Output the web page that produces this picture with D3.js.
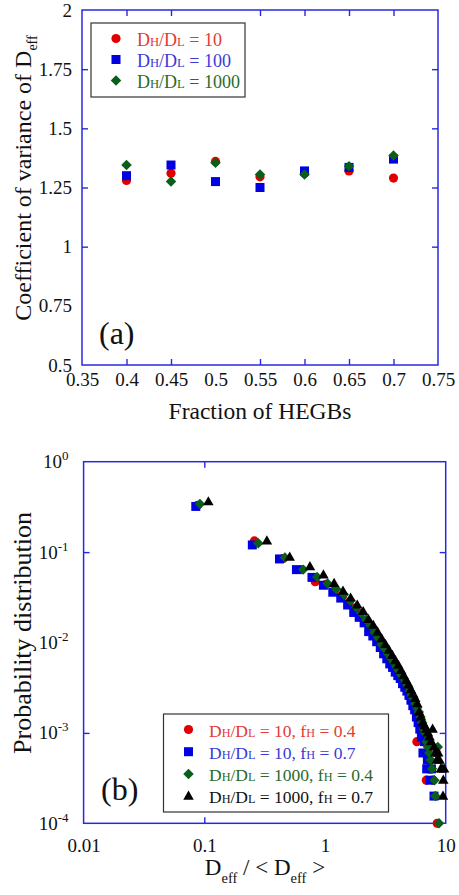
<!DOCTYPE html>
<html>
<head>
<meta charset="utf-8">
<script src="https://cdn.jsdelivr.net/npm/d3@7"></script>
<style>
  body { margin: 0; background: #fff; }
  svg, svg text, svg tspan { font-family: "Liberation Serif", serif !important; }
</style>
</head>
<body>
<script>
// ---- data: panel (a) ----
var fracHEGB = [0.4, 0.45, 0.5, 0.55, 0.6, 0.65, 0.7];
var cv10   = [1.28, 1.31, 1.36, 1.295, 1.31, 1.32, 1.29];
var cv100  = [1.30, 1.345, 1.275, 1.25, 1.32, 1.335, 1.37];
var cv1000 = [1.345, 1.275, 1.355, 1.305, 1.305, 1.34, 1.385];
var topXTicks = [0.35, 0.4, 0.45, 0.5, 0.55, 0.6, 0.65, 0.7, 0.75];
var topYTicks = [0.5, 0.75, 1, 1.25, 1.5, 1.75, 2];

// ---- data: panel (b), [Deff/<Deff>, probability] ----
var pd10_04 = [[0.088,0.33],[0.26,0.133],[0.45,0.085],[0.64,0.064],[0.83,0.047],[1.02,0.044],[1.21,0.038],[1.40,0.033],[1.59,0.028],[1.78,0.024],[1.97,0.021],[2.16,0.017],[2.35,0.0148],[2.54,0.0128],[2.73,0.0108],[2.92,0.0095],[3.11,0.0082],[3.30,0.0072],[3.49,0.0066],[3.68,0.0058],[3.87,0.0054],[4.06,0.0048],[4.25,0.0045],[4.44,0.0040],[4.63,0.0036],[4.82,0.0032],[5.01,0.0029],[5.20,0.0026],[5.39,0.0023],[5.58,0.0019],[5.77,0.0008],[5.96,0.0016],[6.15,0.0013],[6.34,0.0011],[6.53,0.0010],[6.72,0.0008],[6.91,0.0003],[7.10,0.0006],[7.29,0.0005],[7.48,0.0004],[7.86,0.0003],[8.40,0.0006],[8.50,0.0001]];
var pd10_07 = [[0.085,0.32],[0.25,0.12],[0.42,0.084],[0.58,0.064],[0.78,0.0525],[0.97,0.043],[1.16,0.036],[1.35,0.031],[1.54,0.026],[1.73,0.0215],[1.92,0.019],[2.11,0.0165],[2.30,0.0132],[2.49,0.0118],[2.68,0.0102],[2.87,0.0088],[3.06,0.0075],[3.25,0.0066],[3.44,0.0058],[3.63,0.0053],[3.82,0.0047],[4.01,0.0043],[4.20,0.0040],[4.39,0.0035],[4.58,0.0032],[4.77,0.0029],[4.96,0.0026],[5.15,0.0023],[5.34,0.0020],[5.53,0.0018],[5.72,0.0015],[5.91,0.0013],[6.10,0.0011],[6.29,0.0009],[6.48,0.0006],[6.67,0.0008],[6.96,0.0004],[7.05,0.0005],[7.40,0.0003],[7.62,0.0004],[8.00,0.0002]];
var pd1000_04 = [[0.092,0.34],[0.28,0.125],[0.465,0.087],[0.66,0.064],[0.86,0.053],[1.05,0.045],[1.24,0.039],[1.43,0.034],[1.62,0.029],[1.81,0.0245],[2.00,0.021],[2.19,0.018],[2.38,0.0155],[2.57,0.013],[2.76,0.0112],[2.95,0.0095],[3.14,0.0085],[3.33,0.0075],[3.52,0.0067],[3.71,0.0060],[3.90,0.0054],[4.09,0.0049],[4.28,0.0044],[4.47,0.0040],[4.66,0.0036],[4.85,0.0033],[5.04,0.0029],[5.23,0.0026],[5.42,0.0024],[5.61,0.0021],[5.80,0.0019],[5.99,0.0017],[6.18,0.0015],[6.37,0.0013],[6.56,0.0011],[6.75,0.0010],[6.94,0.0008],[7.13,0.0007],[7.32,0.0006],[7.51,0.0005],[7.70,0.0004],[8.60,0.0007],[8.08,0.0003],[8.20,0.0002],[8.80,0.0001]];
var pd1000_07 = [[0.108,0.36],[0.33,0.133],[0.51,0.088],[0.75,0.069],[0.97,0.056],[1.19,0.045],[1.41,0.037],[1.63,0.031],[1.85,0.026],[2.07,0.022],[2.29,0.018],[2.51,0.0155],[2.73,0.013],[2.95,0.011],[3.17,0.0095],[3.39,0.0082],[3.61,0.0072],[3.83,0.0063],[4.05,0.0056],[4.27,0.0049],[4.49,0.0043],[4.71,0.0038],[4.93,0.0034],[5.15,0.0030],[5.37,0.0027],[5.59,0.0024],[5.81,0.0021],[6.03,0.0017],[6.25,0.0015],[6.47,0.0013],[6.69,0.0012],[6.91,0.0011],[7.13,0.0010],[7.35,0.0009],[7.57,0.0008],[7.79,0.0011],[8.01,0.0007],[8.23,0.0006],[8.45,0.0005],[8.67,0.0006],[8.89,0.0005],[9.11,0.0004],[9.33,0.0004],[9.55,0.0003],[9.50,0.0002],[9.70,0.0004]];
var botXTicks = [0.01, 0.1, 1, 10];
var botYExps = [0, -1, -2, -3, -4];

var RED = "#e00000", BLUE = "#0000e0", GREEN = "#0a5e1a", BLACK = "#000";
var AXIS = "#2828e0";
var SERIF = "'Liberation Serif', serif";

var svg = d3.select("body").append("svg").attr("width", 459).attr("height", 895)
  .style("font-family", SERIF);

// marker drawing helper
function marker(g, shape, x, y, color) {
  var p;
  if (shape == "circle") p = g.append("circle").attr("cx", x).attr("cy", y).attr("r", 4.6);
  else if (shape == "square") p = g.append("path").attr("d", d3.symbol(d3.symbolSquare, 81)()).attr("transform", "translate(" + x + "," + y + ")");
  else if (shape == "diamond") p = g.append("path").attr("d", d3.symbol(d3.symbolSquare, 55)()).attr("transform", "translate(" + x + "," + y + ") rotate(45)");
  else p = g.append("path").attr("d", d3.symbol(d3.symbolTriangle, 48)()).attr("transform", "translate(" + x + "," + (y + 0.5) + ")");
  p.attr("fill", color);
}

// label with small-cap subscripts, parts = [[text, small?], ...]
function richText(g, x, y, parts, color, size) {
  var t = g.append("text").attr("x", x).attr("y", y).attr("fill", color).attr("font-size", size)
    .style("font-family", SERIF);
  parts.forEach(function(p) {
    t.append("tspan").attr("font-size", p[1] ? size * 0.7 : size).text(p[0]);
  });
  return t;
}

function frameAxes(g, x, y, xAxisFn, yAxisFn, pads) {
  var w = x.range()[1] - x.range()[0], h = y.range()[0] - y.range()[1];
  var bottom = g.append("g").attr("transform", "translate(0," + y.range()[0] + ")")
    .call(xAxisFn(d3.axisBottom(x)).tickSizeInner(-6).tickSizeOuter(0).tickPadding(pads[0]));
  var left = g.append("g").attr("transform", "translate(" + x.range()[0] + ",0)")
    .call(yAxisFn(d3.axisLeft(y)).tickSizeInner(-6).tickSizeOuter(0).tickPadding(pads[1]));
  g.append("g").attr("transform", "translate(0," + y.range()[1] + ")")
    .call(xAxisFn(d3.axisTop(x)).tickSizeInner(-6).tickSizeOuter(0).tickFormat(""));
  g.append("g").attr("transform", "translate(" + x.range()[1] + ",0)")
    .call(yAxisFn(d3.axisRight(y)).tickSizeInner(-6).tickSizeOuter(0).tickFormat(""));
  g.selectAll(".domain").remove();
  g.selectAll("g").attr("font-family", null).style("font-family", SERIF);
  g.selectAll(".tick line").attr("stroke", AXIS).attr("stroke-width", 1.4);
  g.selectAll(".tick text").attr("fill", "#111").attr("font-size", 19).style("font-family", SERIF);
  g.append("rect").attr("x", x.range()[0]).attr("y", y.range()[1]).attr("width", w).attr("height", h)
    .attr("fill", "none").attr("stroke", AXIS).attr("stroke-width", 1.5);
  return {bottom: bottom, left: left};
}

function label(g, size) {
  return g.append("text").attr("font-size", size).attr("fill", "#111").style("font-family", SERIF);
}

// ================= panel (a) =================
var xA = d3.scaleLinear().domain([0.35, 0.75]).range([82, 438]);
var yA = d3.scaleLinear().domain([0.5, 2]).range([365, 10]);
var gA = svg.append("g");
frameAxes(gA, xA, yA,
  function(a) { return a.tickValues(topXTicks).tickFormat(function(d) { return d; }); },
  function(a) { return a.tickValues(topYTicks).tickFormat(function(d) { return d; }); },
  [8, 10]);
// no ticks at the frame corners
gA.selectAll(".tick line").filter(function(d) { return d == 0.35 || d == 0.75 || d == 0.5 || d == 2; }).remove();

var topSeries = [[cv10, "circle", RED], [cv100, "square", BLUE], [cv1000, "diamond", GREEN]];
topSeries.forEach(function(s) {
  s[0].forEach(function(v, i) { marker(gA, s[1], xA(fracHEGB[i]), yA(v), s[2]); });
});

label(gA, 23.5).attr("x", 260).attr("y", 419).attr("text-anchor", "middle").text("Fraction of HEGBs");
var ytA = label(gA, 24).attr("transform", "translate(31,178) rotate(-90)").attr("text-anchor", "middle");
ytA.append("tspan").text("Coefficient of variance of D");
ytA.append("tspan").attr("font-size", 14).attr("dy", 6).text("eff");
label(gA, 32).attr("x", 99).attr("y", 344).text("(a)");

// legend (a)
var legA = gA.append("g");
legA.append("rect").attr("x", 91).attr("y", 23).attr("width", 154).attr("height", 74)
  .attr("fill", "#fff").attr("stroke", "#333").attr("stroke-width", 1.2);
var legAItems = [["10", "circle", RED, "#e53935"], ["100", "square", BLUE, "#3a3ad8"], ["1000", "diamond", GREEN, "#2a6a2a"]];
legAItems.forEach(function(it, i) {
  var y = 38.5 + i * 21;
  marker(legA, it[1], 116, y, it[2]);
  richText(legA, 137, y + 7, [["D", 0], ["H", 1], ["/D", 0], ["L", 1], [" = " + it[0], 0]], it[3], 18);
});

// ================= panel (b) =================
var xB = d3.scaleLog().domain([0.01, 10]).range([83.6, 445.7]);
var yB = d3.scaleLog().domain([1e-4, 1]).range([823.3, 461.7]);
var gB = svg.append("g");
var axB = frameAxes(gB, xB, yB,
  function(a) { return a.tickValues(botXTicks).tickFormat(function(d) { return d; }); },
  function(a) { return a.tickValues(botYExps.map(function(e) { return Math.pow(10, e); })).tickFormat(""); },
  [15, 15]);
gB.selectAll(".tick line").filter(function(d) { return d == 0.01 || d == 10 || d == 1e-4 || d == 1; }).remove();
axB.left.selectAll(".tick text").each(function(d) {
  var t = d3.select(this);
  t.text("10");
  t.append("tspan").attr("dy", -8).attr("font-size", 13).text(Math.round(Math.log10(d)));
});

var botSeries = [[pd10_04, "circle", RED], [pd10_07, "square", BLUE], [pd1000_04, "diamond", GREEN], [pd1000_07, "triangle", BLACK]];
botSeries.forEach(function(s) {
  s[0].forEach(function(p) { marker(gB, s[1], xB(p[0]), yB(p[1]), s[2]); });
});

var xtB = label(gB, 23).attr("x", 265).attr("y", 875).attr("text-anchor", "middle");
xtB.append("tspan").text("D");
xtB.append("tspan").attr("font-size", 14.5).attr("dy", 8).text("eff");
xtB.append("tspan").attr("dy", -8).text(" / < D");
xtB.append("tspan").attr("font-size", 14.5).attr("dy", 8).text("eff");
xtB.append("tspan").attr("dy", -8).text(" >");
label(gB, 26).attr("transform", "translate(31,633) rotate(-90)").attr("text-anchor", "middle")
  .text("Probability distribution");
label(gB, 32).attr("x", 101).attr("y", 800).text("(b)");

// legend (b)
var legB = gB.append("g");
legB.append("rect").attr("x", 163.5).attr("y", 714).attr("width", 225).attr("height", 98)
  .attr("fill", "#fff").attr("stroke", "#333").attr("stroke-width", 1.2);
var legBItems = [["10", "0.4", "circle", RED, "#e53935"], ["10", "0.7", "square", BLUE, "#3a3ad8"],
                 ["1000", "0.4", "diamond", GREEN, "#2a6a2a"], ["1000", "0.7", "triangle", BLACK, "#111"]];
legBItems.forEach(function(it, i) {
  var y = 729.5 + i * 22.2;
  marker(legB, it[2], 188.5, y, it[3]);
  richText(legB, 209, y + 7, [["D", 0], ["H", 1], ["/D", 0], ["L", 1], [" = " + it[0] + ", f", 0], ["H", 1], [" = " + it[1], 0]], it[4], 17.5);
});
</script>
</body>
</html>
